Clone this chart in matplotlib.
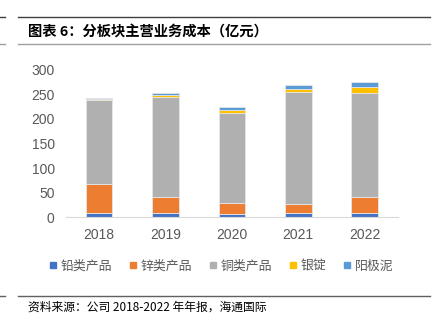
import numpy as np
import matplotlib.pyplot as plt
from matplotlib.lines import Line2D

plt.rcParams['font.family'] = ['Noto Sans CJK SC', 'DejaVu Sans']

years = ['2018', '2019', '2020', '2021', '2022']
series = ['铅类产品', '锌类产品', '铜类产品', '银锭', '阳极泥']
lead = [8, 9, 7, 8, 8]
zinc = [60, 31, 22, 19, 34]
copper = [171, 204, 184, 229, 211]
silver = [1.5, 4, 5.5, 5.5, 12]
slime = [2.5, 5.5, 6.5, 8.5, 9.5]
colors = ['#4472C4', '#ED7D31', '#B0B0B0', '#FFC000', '#5B9BD5']

fig = plt.figure(figsize=(4.45, 3.33), dpi=100)
ax = fig.add_axes([0.148, 0.348, 0.746, 0.442])

x = np.arange(len(years))
bottom = np.zeros(len(years))
for vals, c in zip([lead, zinc, copper, silver, slime], colors):
    ax.bar(x, vals, 0.4, bottom=bottom, color=c, edgecolor='#E6E6E6', linewidth=0.6)
    bottom += np.array(vals)

ax.set_xlim(-0.5, 4.5)
ax.set_ylim(0, 300)
ax.set_yticks(range(0, 301, 50))
ax.set_xticks(x)
ax.set_xticklabels(years)
for s in ['top', 'right', 'left']:
    ax.spines[s].set_visible(False)
ax.spines['bottom'].set_color('#D9D9D9')
ax.tick_params(length=0, colors='#595959', labelsize=10, pad=8)
for lab in ax.get_xticklabels() + ax.get_yticklabels():
    lab.set_family('Liberation Sans')

handles = [Line2D([], [], marker='s', linestyle='', color=c, markersize=5) for c in colors]
fig.legend(handles, series, loc='center', bbox_to_anchor=(0.497, 0.2), ncol=5, frameon=False,
           handlelength=0.6, handletextpad=0.3, columnspacing=1.3, fontsize=9.3,
           labelcolor='#595959')

# title and frame lines
for y, c in [(17, '#404040'), (44, '#A0A0A0'), (295.5, '#606060')]:
    fy = 1 - y / 333
    fig.add_artist(Line2D([18 / 445, 430 / 445], [fy, fy], color=c, lw=1.0))
    fig.add_artist(Line2D([0, 5 / 445], [fy, fy], color=c, lw=1.0))
fig.text(28 / 445, 1 - 32 / 333, '图表 6：分板块主营业务成本（亿元）', fontsize=10.3,
         fontweight='bold', va='center', ha='left', color='#000000')
fig.text(28 / 445, 1 - 307 / 333, '资料来源：公司 2018-2022 年年报，海通国际', fontsize=8.5,
         va='center', ha='left', color='#000000')

fig.savefig('out.png', dpi=100)
